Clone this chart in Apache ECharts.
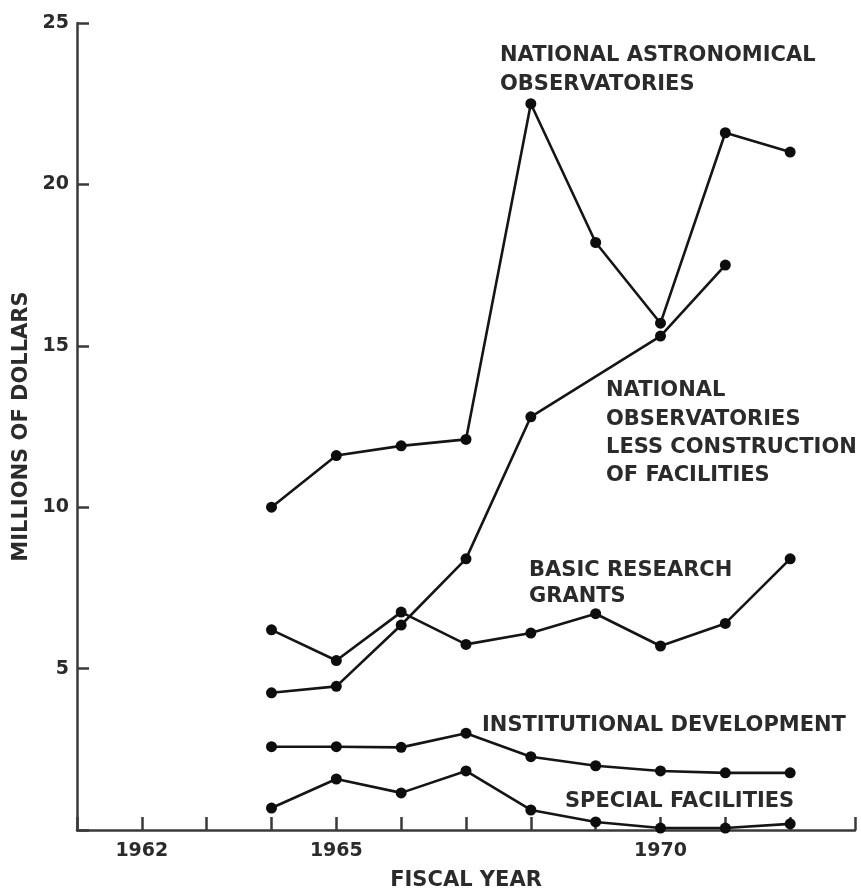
<!DOCTYPE html>
<html>
<head>
<meta charset="utf-8">
<script src="https://cdn.jsdelivr.net/npm/echarts@6/dist/echarts.min.js"></script>
<style>
html,body{margin:0;padding:0;background:#fff;}
#chart{width:861px;height:888px;}
</style>
</head>
<body>
<div id="chart"></div>
<script>
// ---- data ----
var years = [1964, 1965, 1966, 1967, 1968, 1969, 1970, 1971, 1972];
var nationalAstronomicalObservatories = [10.0, 11.6, 11.9, 12.1, 22.5, 18.2, 15.7, 21.6, 21.0];
var nationalObsLessConstruction = [4.25, 4.45, 6.35, 8.4, 12.8, null, 15.3, 17.5, null];
var basicResearchGrants = [6.2, 5.25, 6.75, 5.75, 6.1, 6.7, 5.7, 6.4, 8.4];
var institutionalDevelopment = [2.58, 2.58, 2.56, 3.0, 2.27, 1.99, 1.83, 1.77, 1.77];
var specialFacilities = [0.68, 1.58, 1.15, 1.83, 0.62, 0.25, 0.06, 0.06, 0.19];
var xTickLabels = [1962, 1965, 1970];
var yTickLabels = [5, 10, 15, 20, 25];

function pairs(vals) {
  var out = [];
  for (var i = 0; i < years.length; i++) {
    if (vals[i] !== null && vals[i] !== undefined) out.push([years[i], vals[i]]);
  }
  return out;
}

var ink = '#2b2b2b';
var labelFont = 'bold 21px "DejaVu Sans"';

function lineSeries(name, vals) {
  return {
    name: name,
    type: 'line',
    data: pairs(vals),
    symbol: 'circle',
    symbolSize: 11,
    showSymbol: true,
    lineStyle: { color: '#151515', width: 2.6 },
    itemStyle: { color: '#0d0d0d' },
    emphasis: { disabled: true },
    animation: false,
    z: 3
  };
}

function txt(x, y, s) {
  return {
    type: 'text', x: x, y: y, silent: true,
    style: { text: s, font: labelFont, fill: ink, align: 'left', verticalAlign: 'middle' }
  };
}

var chart = echarts.init(document.getElementById('chart'), null, { renderer: 'canvas' });
chart.setOption({
  backgroundColor: '#fff',
  animation: false,
  grid: { left: 77, right: 6, top: 23, bottom: 58, containLabel: false, outerBoundsMode: 'none' },
  xAxis: {
    type: 'value',
    min: 1961, max: 1973, interval: 1,
    name: 'FISCAL YEAR',
    nameLocation: 'middle',
    nameGap: 40,
    nameTextStyle: { fontFamily: 'DejaVu Sans', fontWeight: 'bold', fontSize: 21, color: ink },
    axisLine: { show: true, lineStyle: { color: '#3a3a3a', width: 2.5 } },
    axisTick: { show: true, inside: true, length: 13, lineStyle: { color: '#3a3a3a', width: 2.5 } },
    axisLabel: {
      margin: 12,
      fontFamily: 'DejaVu Sans', fontWeight: 'bold', fontSize: 19, color: ink,
      showMinLabel: true, showMaxLabel: true,
      formatter: function (v) { return xTickLabels.indexOf(v) >= 0 ? String(v) : ''; }
    },
    splitLine: { show: false }
  },
  yAxis: {
    type: 'value',
    min: 0, max: 25, interval: 5,
    name: 'MILLIONS OF DOLLARS',
    nameLocation: 'middle',
    nameGap: 40,
    nameRotate: 90,
    nameTextStyle: { fontFamily: 'DejaVu Sans', fontWeight: 'bold', fontSize: 21, color: ink },
    axisLine: { show: true, lineStyle: { color: '#3a3a3a', width: 2.5 } },
    axisTick: { show: true, inside: true, length: 12, lineStyle: { color: '#3a3a3a', width: 2.5 } },
    axisLabel: {
      margin: 8,
      fontFamily: 'DejaVu Sans', fontWeight: 'bold', fontSize: 19, color: ink,
      formatter: function (v) { return yTickLabels.indexOf(v) >= 0 ? String(v) : ''; }
    },
    splitLine: { show: false }
  },
  series: [
    lineSeries('National Astronomical Observatories', nationalAstronomicalObservatories),
    lineSeries('National Observatories less construction of facilities', nationalObsLessConstruction),
    lineSeries('Basic Research Grants', basicResearchGrants),
    lineSeries('Institutional Development', institutionalDevelopment),
    lineSeries('Special Facilities', specialFacilities)
  ],
  graphic: [
    txt(500, 56, 'NATIONAL ASTRONOMICAL'),
    txt(500, 85, 'OBSERVATORIES'),
    txt(606, 391, 'NATIONAL'),
    txt(606, 420, 'OBSERVATORIES'),
    txt(606, 448, 'LESS CONSTRUCTION'),
    txt(606, 476, 'OF FACILITIES'),
    txt(529, 571, 'BASIC RESEARCH'),
    txt(529, 597, 'GRANTS'),
    txt(482, 726, 'INSTITUTIONAL DEVELOPMENT'),
    txt(565, 802, 'SPECIAL FACILITIES')
  ]
});
</script>
</body>
</html>
